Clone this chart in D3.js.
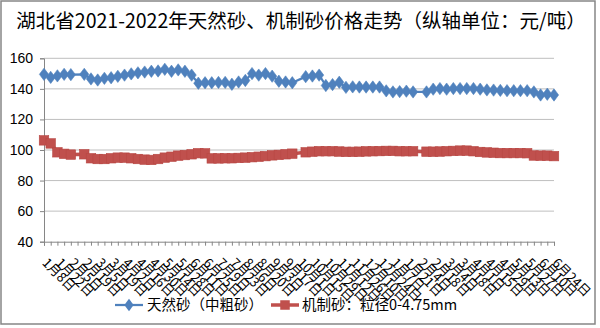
<!DOCTYPE html>
<html><head><meta charset="utf-8">
<script src="https://cdn.jsdelivr.net/npm/d3@7"></script>
<style>body{margin:0;background:#fff}svg{display:block}</style>
</head><body>
<svg id="c" width="600" height="328"></svg>
<script>
const categories = ["1月8日","1月15日","1月22日","1月29日","2月5日","2月12日","2月19日","2月26日","3月5日","3月12日","3月19日","3月26日","4月2日","4月9日","4月16日","4月23日","4月30日","5月7日","5月14日","5月21日","5月28日","6月4日","6月11日","6月18日","6月25日","7月2日","7月9日","7月16日","7月23日","7月30日","8月6日","8月13日","8月20日","8月27日","9月3日","9月10日","9月17日","9月24日","10月1日","10月8日","10月15日","10月22日","10月29日","11月5日","11月12日","11月19日","11月26日","12月3日","12月10日","12月17日","12月24日","12月31日",
"1月7日","1月14日","1月21日","1月28日","2月4日","2月11日","2月18日","2月25日","3月4日","3月11日","3月18日","3月25日","4月1日","4月8日","4月15日","4月22日","4月29日","5月6日","5月13日","5月20日","5月27日","6月3日","6月10日","6月17日","6月24日"];
const naturalSand = [149.5,147.5,148.5,149.5,149.3,null,149.5,146.5,145.8,146.9,147.3,148.2,149,149.8,150.5,151,151.5,151.7,152.8,151.5,152.4,151.5,149,143.7,144,144,144.2,144.2,143,144.5,145.5,150,149,150,148.3,145,144.5,144,null,148,148.4,149,142.2,142.8,144.3,141,141.3,141.2,141.2,141.2,141.2,138.7,138,138.2,138.5,138,null,138,139.8,140.2,139.8,140.2,140.2,140.2,140.2,139.8,139.3,139.2,139,138.8,138.8,138.8,138.8,138,136,136.5,136];
const machineSand = [106.3,104.3,98.5,97.5,97,null,97.2,94.6,94.1,94.1,94.6,95,95,94.6,94.1,93.7,93.5,94.1,95,95.6,96.3,96.7,97.2,97.9,97.8,94.5,94.5,94.6,94.6,94.8,95,95.3,95.6,96,96.5,96.8,97.2,97.6,null,98.5,98.9,99.2,99.2,99.2,99,98.8,98.8,98.9,99.1,99.2,99.3,99.4,99.4,99.2,99.2,99.2,null,98.9,98.9,99,99.2,99.4,99.6,99.6,99.2,98.7,98.4,98.2,98,98,98,98,97.9,96.4,96.3,96.3,96];
const yTicks = [40,60,80,100,120,140,160];
const titleText = "湖北省2021-2022年天然砂、机制砂价格走势（纵轴单位：元/吨）";
const seriesNames = ["天然砂（中粗砂）","机制砂：粒径0-4.75mm"];
const seriesColors = ["#4F81BD","#C0504D"];

const svg = d3.select("#c");
const cjk = "'Noto Sans CJK SC','Noto Sans',sans-serif";

// chart border
svg.append("rect").attr("x",1).attr("y",1).attr("width",594).attr("height",323)
  .attr("fill","#fff").attr("stroke","#868686").attr("stroke-width",1.5);

// title
const title = svg.append("text").attr("x",301).attr("y",28).attr("text-anchor","middle")
  .attr("font-family",cjk).attr("font-size",19).attr("fill","#000").text(titleText);
const tw = title.node().getComputedTextLength();
title.attr("font-size", 19*570/tw);

const x = d3.scalePoint().domain(categories).range([44,554]).padding(0);
const y = d3.scaleLinear().domain([40,160]).range([241.7,58.3]);

// gridlines
svg.append("g").selectAll("line").data(yTicks.filter(d=>d>40)).join("line")
  .attr("x1",44).attr("x2",554).attr("y1",d=>y(d)).attr("y2",d=>y(d))
  .attr("stroke","#BFBFBF").attr("stroke-width",1);

// y axis
const ya = svg.append("g").attr("transform","translate(44,0)")
  .call(d3.axisLeft(y).tickValues(yTicks).tickSize(4).tickPadding(7).tickFormat(d3.format("d")));
ya.select(".domain").attr("stroke","#868686");
ya.selectAll(".tick line").attr("stroke","#868686");
ya.selectAll("text").attr("font-family","'Liberation Sans',Arial,sans-serif").attr("font-size",14).attr("fill","#000");

// x axis
const xa = svg.append("g").attr("transform",`translate(0,${y(40)})`)
  .call(d3.axisBottom(x).tickSize(4).tickFormat((d,i)=> i%2===0 ? d : ""));
xa.select(".domain").attr("stroke","#868686");
xa.selectAll(".tick line").attr("stroke","#868686");
xa.selectAll("text").attr("font-family",cjk).attr("font-size",13).attr("fill","#000")
  .attr("text-anchor","start").attr("x",0).attr("y",0).attr("dy",0)
  .attr("transform","translate(-3,22) rotate(45)");

// series
function drawSeries(vals, color, lw, marker){
  const pts = categories.map((c,i)=>({c,v:vals[i]})).filter(p=>p.v!=null);
  svg.append("path").datum(pts)
    .attr("d", d3.line().x(p=>x(p.c)).y(p=>y(p.v)))
    .attr("fill","none").attr("stroke",color).attr("stroke-width",lw).attr("stroke-linejoin","round");
  const g = svg.append("g");
  if (marker==="diamond"){
    g.selectAll("path").data(pts).join("path")
      .attr("d", d3.symbol(d3.symbolDiamond, 44))
      .attr("transform",p=>`translate(${x(p.c)},${y(p.v)}) scale(1.3,1)`)
      .attr("fill",color).attr("stroke",color).attr("stroke-width",0.5);
  } else {
    g.selectAll("rect").data(pts).join("rect")
      .attr("x",p=>x(p.c)-4.75).attr("y",p=>y(p.v)-4.75).attr("width",9.5).attr("height",9.5)
      .attr("fill",color).attr("stroke","#B84844").attr("stroke-width",0.6);
  }
}
drawSeries(naturalSand, seriesColors[0], 2.25, "diamond");
drawSeries(machineSand, seriesColors[1], 3.5, "square");

// legend
const leg = svg.append("g").attr("font-family",cjk).attr("font-size",14.5);
const legItems = [{x0:115,x1:143,tx:147,name:seriesNames[0],color:seriesColors[0],m:"diamond"},
                  {x0:271,x1:299,tx:302,name:seriesNames[1],color:seriesColors[1],m:"square"}];
legItems.forEach(it=>{
  const cy = 305;
  leg.append("line").attr("x1",it.x0).attr("x2",it.x1).attr("y1",cy).attr("y2",cy)
    .attr("stroke",it.color).attr("stroke-width",it.m==="diamond"?2.25:3.5);
  const mx=(it.x0+it.x1)/2;
  if(it.m==="diamond"){
    leg.append("path").attr("d",d3.symbol(d3.symbolDiamond,44)).attr("transform",`translate(${mx},${cy}) scale(1.3,1)`).attr("fill",it.color);
  } else {
    leg.append("rect").attr("x",mx-4.75).attr("y",cy-4.75).attr("width",9.5).attr("height",9.5).attr("fill",it.color);
  }
  leg.append("text").attr("x",it.tx).attr("y",cy+5).attr("fill","#000").text(it.name);
});
</script>
</body></html>
